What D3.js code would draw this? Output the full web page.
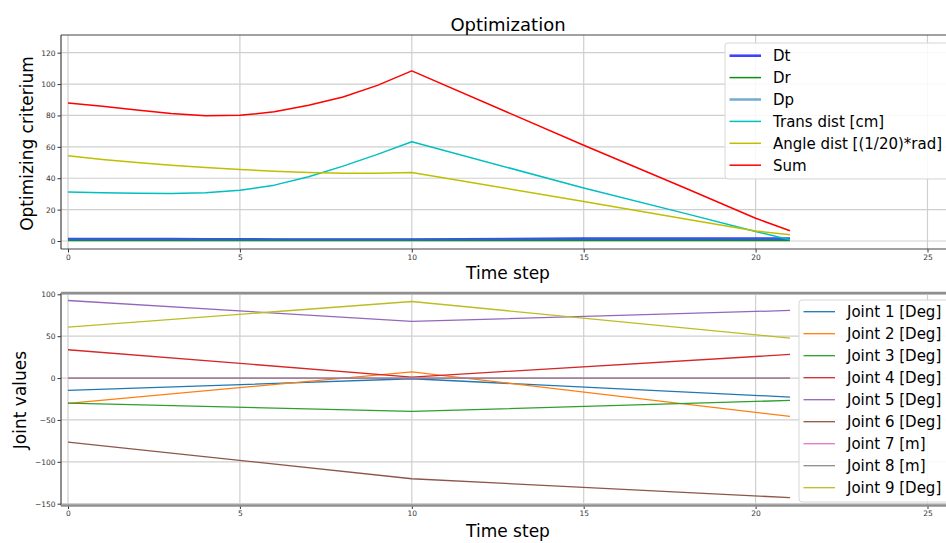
<!DOCTYPE html>
<html>
<head>
<meta charset="utf-8">
<script src="https://cdn.jsdelivr.net/npm/d3@7"></script>
<style>
  body { margin: 0; background: #fff; }
  svg { display: block; font-family: "DejaVu Sans", sans-serif; }
</style>
</head>
<body>
<svg id="chart" width="946" height="543"></svg>
<script>
// top panel: optimizing criterium per time step
var critSteps = [0, 1, 2, 3, 4, 5, 6, 7, 8, 9, 10, 15, 18, 20, 21];
var dtValues = [1.3, 1.3, 1.2, 1.2, 1.1, 1.1, 1.0, 1.0, 0.9, 0.9, 0.9, 1.5, 1.5, 1.5, 1.5];
var drValues = [0.3, 0.3, 0.3, 0.3, 0.3, 0.3, 0.3, 0.3, 0.3, 0.3, 0.3, 0.3, 0.3, 0.3, 0.3];
var dpValues = [1.0, 1.0, 1.0, 1.0, 0.9, 0.9, 0.9, 0.8, 0.8, 0.8, 0.8, 1.1, 1.1, 1.1, 1.1];
var transValues = [31.2, 30.8, 30.4, 30.2, 30.8, 32.3, 35.6, 40.9, 47.7, 55.2, 63.2, 33.8, 17.3, 6.0, 0.8];
var angleValues = [54.3, 52.0, 50.1, 48.3, 46.9, 45.5, 44.5, 43.7, 43.1, 43.1, 43.7, 25.2, 13.8, 6.4, 4.0];
var sumValues = [88.0, 85.9, 83.5, 81.2, 79.8, 80.1, 82.3, 86.5, 91.8, 99.2, 108.4, 61.0, 33.3, 14.5, 6.5];
var critTicksY = [0, 20, 40, 60, 80, 100, 120];

// bottom panel: joint values per time step
var jointSteps = [0, 10, 21];
var joint1 = [-14.8, -0.8, -22.7];
var joint2 = [-30.3, 7.5, -45.8];
var joint3 = [-29.9, -39.8, -26.7];
var joint4 = [33.8, 1.2, 28.2];
var joint5 = [92.6, 67.6, 80.7];
var joint6 = [-76.4, -120.2, -142.8];
var joint7 = [0, 0, 0];
var joint8 = [0, 0, 0];
var joint9 = [60.8, 91.4, 47.7];
var jointTicksY = [-150, -100, -50, 0, 50, 100];

var stepTicks = [0, 5, 10, 15, 20, 25];

var svg = d3.select('#chart');

var x = d3.scaleLinear().domain([0, 25]).range([68, 927.5]);
var yTop = d3.scaleLinear().domain([0, 120]).range([241, 52.7]);
var yBot = d3.scaleLinear().domain([-150, 100]).range([503.7, 294.3]);

var frameLeft = 61, frameRight = 955;

function drawPanel(y, top, bottom, yTicks, clipId) {
	var g = svg.append('g');

	g.append('clipPath').attr('id', clipId)
		.append('rect').attr('x', frameLeft).attr('y', top)
		.attr('width', frameRight - frameLeft).attr('height', bottom - top);

	// grid
	g.selectAll('line.gx').data(stepTicks).enter().append('line')
		.attr('x1', function(d){ return x(d); }).attr('x2', function(d){ return x(d); })
		.attr('y1', top).attr('y2', bottom)
		.attr('stroke', '#cfcfcf').attr('stroke-width', 1.2);
	g.selectAll('line.gy').data(yTicks).enter().append('line')
		.attr('x1', frameLeft).attr('x2', frameRight)
		.attr('y1', function(d){ return y(d); }).attr('y2', function(d){ return y(d); })
		.attr('stroke', '#cfcfcf').attr('stroke-width', 1.2);

	// axes
	var ax = g.append('g').attr('transform', 'translate(0,' + bottom + ')')
		.call(d3.axisBottom(x).tickValues(stepTicks).tickSize(3.5).tickPadding(2).tickFormat(d3.format('d')));
	var ay = g.append('g').attr('transform', 'translate(' + frameLeft + ',0)')
		.call(d3.axisLeft(y).tickValues(yTicks).tickSize(3.5).tickPadding(2).tickFormat(function(d){ return d < 0 ? '\u2212' + (-d) : d; }));
	[ax, ay].forEach(function(a) {
		a.select('.domain').remove();
		a.selectAll('.tick line').attr('stroke', '#333');
		a.selectAll('.tick text').attr('fill', '#333').style('font-size', '7.5px')
			.style('font-family', '"DejaVu Sans", sans-serif');
	});

	return g;
}

function drawFrame(top, bottom, sideColor, tbColor, tbWidth) {
	svg.append('line').attr('x1', frameLeft).attr('x2', frameLeft).attr('y1', top).attr('y2', bottom)
		.attr('stroke', sideColor).attr('stroke-width', 1.2);
	svg.append('line').attr('x1', frameLeft).attr('x2', frameRight).attr('y1', top).attr('y2', top)
		.attr('stroke', tbColor).attr('stroke-width', tbWidth);
	svg.append('line').attr('x1', frameLeft).attr('x2', frameRight).attr('y1', bottom).attr('y2', bottom)
		.attr('stroke', tbColor).attr('stroke-width', tbWidth);
}

function drawLines(g, series, steps, y, clipId) {
	var line = d3.line().x(function(d){ return x(d[0]); }).y(function(d){ return y(d[1]); });
	var lg = g.append('g').attr('clip-path', 'url(#' + clipId + ')');
	series.forEach(function(s) {
		lg.append('path')
			.attr('d', line(steps.map(function(t, i){ return [t, s.values[i]]; })))
			.attr('fill', 'none').attr('stroke', s.color)
			.attr('stroke-width', s.width).attr('stroke-opacity', s.opacity || 1)
			.attr('stroke-linejoin', 'round');
	});
}

function drawLegend(series, left, top, height, firstRow, rowGap) {
	var lg = svg.append('g');
	lg.append('rect').attr('x', left).attr('y', top).attr('width', 960 - left).attr('height', height)
		.attr('rx', 3).attr('fill', '#fff').attr('fill-opacity', 0.85)
		.attr('stroke', '#d6d6d6').attr('stroke-width', 1);
	series.forEach(function(s, i) {
		var cy = firstRow + i * rowGap;
		lg.append('line').attr('x1', left + 4.5).attr('x2', left + 36).attr('y1', cy).attr('y2', cy)
			.attr('stroke', s.color).attr('stroke-width', s.width)
			.attr('stroke-opacity', s.opacity || 1);
		lg.append('text').attr('x', left + 48).attr('y', cy + 5.4)
			.style('font-size', '15px').attr('fill', '#000').text(s.name);
	});
}

// ---- top panel ----
var critSeries = [
	{ name: 'Dt', values: dtValues, color: '#0000ff', width: 2.6, opacity: 0.75 },
	{ name: 'Dr', values: drValues, color: '#108c10', width: 1.5 },
	{ name: 'Dp', values: dpValues, color: '#1f77b4', width: 2.6, opacity: 0.6 },
	{ name: 'Trans dist [cm]', values: transValues, color: '#00bfbf', width: 1.5 },
	{ name: 'Angle dist [(1/20)*rad]', values: angleValues, color: '#bfbf00', width: 1.5 },
	{ name: 'Sum', values: sumValues, color: '#ff0000', width: 1.5 }
];

var gTop = drawPanel(yTop, 35, 249, critTicksY, 'clipTop');
drawLines(gTop, critSeries, critSteps, yTop, 'clipTop');
drawFrame(35, 249, '#444', '#444', 1.2);
drawLegend(critSeries, 725, 43, 136, 55.7, 21.9);

svg.append('text').attr('x', 508).attr('y', 30.5).attr('text-anchor', 'middle')
	.style('font-size', '18px').attr('fill', '#000').text('Optimization');
svg.append('text').attr('x', 508).attr('y', 279).attr('text-anchor', 'middle')
	.style('font-size', '17px').attr('fill', '#000').text('Time step');
svg.append('text').attr('transform', 'translate(33,143.5) rotate(-90)').attr('text-anchor', 'middle')
	.style('font-size', '17px').attr('fill', '#000').text('Optimizing criterium');

// ---- bottom panel ----
var jointSeries = [
	{ name: 'Joint 1 [Deg]', values: joint1, color: '#1f77b4', width: 1.3 },
	{ name: 'Joint 2 [Deg]', values: joint2, color: '#ff7f0e', width: 1.3 },
	{ name: 'Joint 3 [Deg]', values: joint3, color: '#2ca02c', width: 1.3 },
	{ name: 'Joint 4 [Deg]', values: joint4, color: '#d62728', width: 1.3 },
	{ name: 'Joint 5 [Deg]', values: joint5, color: '#9467bd', width: 1.3 },
	{ name: 'Joint 6 [Deg]', values: joint6, color: '#8c564b', width: 1.3 },
	{ name: 'Joint 7 [m]', values: joint7, color: '#e377c2', width: 1.3 },
	{ name: 'Joint 8 [m]', values: joint8, color: '#7f7f7f', width: 1.3, opacity: 0.9 },
	{ name: 'Joint 9 [Deg]', values: joint9, color: '#bcbd22', width: 1.3 }
];

var gBot = drawPanel(yBot, 293, 505.5, jointTicksY, 'clipBot');
drawLines(gBot, jointSeries, jointSteps, yBot, 'clipBot');
drawFrame(293, 505.5, '#444', '#8f8f8f', 2.4);
drawLegend(jointSeries, 799, 300, 202, 311.7, 22);

svg.append('text').attr('x', 508).attr('y', 537).attr('text-anchor', 'middle')
	.style('font-size', '17px').attr('fill', '#000').text('Time step');
svg.append('text').attr('transform', 'translate(25.5,400) rotate(-90)').attr('text-anchor', 'middle')
	.style('font-size', '17px').attr('fill', '#000').text('Joint values');
</script>
</body>
</html>
